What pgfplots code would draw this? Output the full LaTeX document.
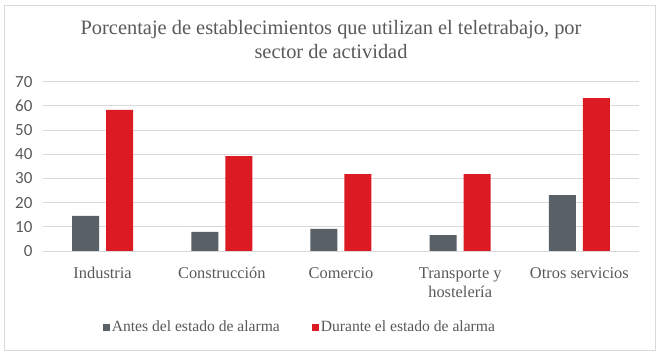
\documentclass[border=0pt]{standalone}
\usepackage{pgfplots}
\pgfplotsset{compat=1.18}
\usepackage{fontspec}
\setmainfont{Liberation Serif}
\newfontfamily\carlito{Carlito}
\definecolor{gbar}{RGB}{88,96,104}
\definecolor{rbar}{RGB}{220,26,34}
\definecolor{txt}{RGB}{89,89,89}
\definecolor{grd}{RGB}{217,217,217}
\begin{document}
\begin{tikzpicture}
\path (-43pt,-105pt) rectangle (619pt,251pt);
\draw[grd] (-39pt,-99pt) rectangle (612pt,246pt);
\node[align=center, text=txt, font=\fontsize{20.4}{24}\selectfont] at (288pt,211pt) {Porcentaje de establecimientos que utilizan el teletrabajo, por\\sector de actividad};
\begin{axis}[at={(0pt,0pt)}, anchor=south west, scale only axis,
  width=596pt, height=169.3pt,
  xmin=-0.5, xmax=4.5, ymin=0, ymax=70, ytick={0,10,...,70},
  xtick=data,
  xticklabels={Industria,Construcción,Comercio,{Transporte y\\hostelería},Otros servicios},
  xticklabel style={align=center, font=\fontsize{16.4}{19}\selectfont, text=txt, yshift=-13pt},
  yticklabel style={font=\carlito\fontsize{17}{18}\selectfont, text=txt, anchor=east, xshift=-7pt},
  /pgf/number format/assume math mode=true,
  axis line style={draw=none},
  major tick length=0pt,
  ymajorgrids, grid style={grd, line width=0.8pt},
  ybar=7pt, bar width=27pt,
  legend style={at={(0.431,-0.449)}, anchor=center, draw=none, legend columns=2,
    font=\fontsize{15.6}{18}\selectfont, text=txt,
    /tikz/every even column/.append style={column sep=30pt}},
  legend image code/.code={\fill[#1] (0pt,-3.5pt) rectangle (7pt,3.5pt);},
]
\addplot[fill=gbar, draw=none] coordinates {(0,14.5) (1,7.9) (2,9.1) (3,6.6) (4,23.1)};
\addplot[fill=rbar, draw=none] coordinates {(0,58.3) (1,39.2) (2,31.8) (3,31.8) (4,63.2)};
\legend{Antes del estado de alarma, Durante el estado de alarma}
\end{axis}
\end{tikzpicture}
\end{document}
